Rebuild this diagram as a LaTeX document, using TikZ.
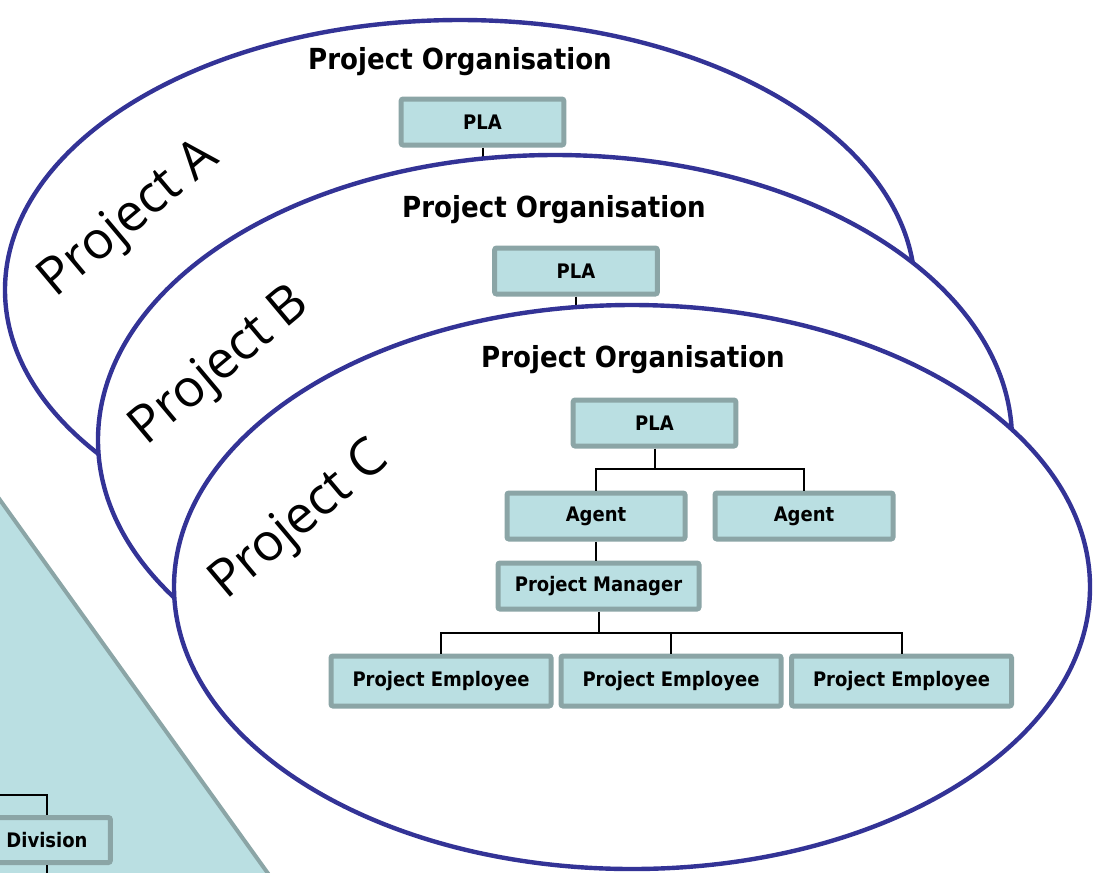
\documentclass[tikz,border=0pt]{standalone}
\usepackage{fontspec}
\setmainfont{DejaVu Sans}[FakeStretch=0.9]
\newfontfamily\projfont{Open Sans}
\definecolor{T4}{RGB}{186,223,226}
\definecolor{G4}{RGB}{139,165,166}
\definecolor{B4}{RGB}{51,51,150}

\begin{document}
\begin{tikzpicture}[x=0.75pt,y=-0.75pt,
    org/.style={draw=G4, fill=T4, line width=3.75pt, rounded corners=1.5pt,
                minimum height=34.5pt, inner sep=0pt,
                font=\bfseries\fontsize{15}{15}\selectfont},
    proj/.style={draw=B4, fill=white, line width=3.3pt},
    title/.style={font=\bfseries\fontsize{21.75}{22}\selectfont},
    plabel/.style={font=\projfont\fontsize{39}{39}\selectfont, rotate=40},
    link/.style={line width=1.5pt}]
  \useasboundingbox (0,0) rectangle (1095,872);
  % line organisation, bottom left
  \fill[T4] (-5,493) -- (272,879) -- (-5,879) -- cycle;
  \draw[G4, line width=3pt] (-5,493) -- (272,879);
  \node[org, minimum width=95pt, minimum height=33.75pt] (div) at (47,840) {Division};
  \coordinate (div-in) at (-5,795);
  \coordinate (div-out) at (47,880);
  \draw[link] (div-in) -| (div);
  \draw[link] (div) -- (div-out);

  % project A
  \draw[proj] (460,290) ellipse [x radius=455, y radius=270];
  \node[title] (a-title) at (460,62) {Project Organisation};
  \node[org, minimum width=122pt] (a-pla) at (482.5,122) {PLA};
  \coordinate (a-stub) at (482.5,180);
  \draw[link] (a-pla) -- (a-stub);
  \node[plabel] (a-name) at (130,220) {Project A};

  % project B
  \draw[proj] (555,440) ellipse [x radius=457, y radius=285];
  \node[title] (b-title) at (554,210) {Project Organisation};
  \node[org, minimum width=122pt] (b-pla) at (576,271) {PLA};
  \coordinate (b-stub) at (576,330);
  \draw[link] (b-pla) -- (b-stub);
  \node[plabel] (b-name) at (221,367) {Project B};

  % project C
  \draw[proj] (632,587) ellipse [x radius=458, y radius=282];
  \node[title] (c-title) at (633,360) {Project Organisation};
  \node[plabel] (c-name) at (300,522) {Project C};
  \node[org, minimum width=122pt] (c-pla) at (654.5,423) {PLA};
  \node[org, minimum width=133.5pt] (c-ag1) at (596,516) {Agent};
  \node[org, minimum width=133.5pt] (c-ag2) at (804,516) {Agent};
  \node[org, minimum width=150.75pt] (c-pm) at (598.5,586) {Project Manager};
  \node[org, minimum width=165pt, minimum height=37.5pt] (c-emp1) at (441,681) {Project Employee};
  \node[org, minimum width=165pt, minimum height=37.5pt] (c-emp2) at (671,681) {Project Employee};
  \node[org, minimum width=165pt, minimum height=37.5pt] (c-emp3) at (901.5,681) {Project Employee};
  \coordinate (c-bus1) at (654.5,469);
  \coordinate (c-bus2) at (598.5,633);
  \draw[link] (c-pla) -- (c-bus1);
  \draw[link] (c-bus1) -| (c-ag1);
  \draw[link] (c-bus1) -| (c-ag2);
  \draw[link] (c-ag1.south) -- (c-ag1.south |- c-pm.north);
  \draw[link] (c-pm) -- (c-bus2);
  \draw[link] (c-bus2) -| (c-emp1);
  \draw[link] (c-bus2) -| (c-emp2);
  \draw[link] (c-bus2) -| (c-emp3);
\end{tikzpicture}
\end{document}
